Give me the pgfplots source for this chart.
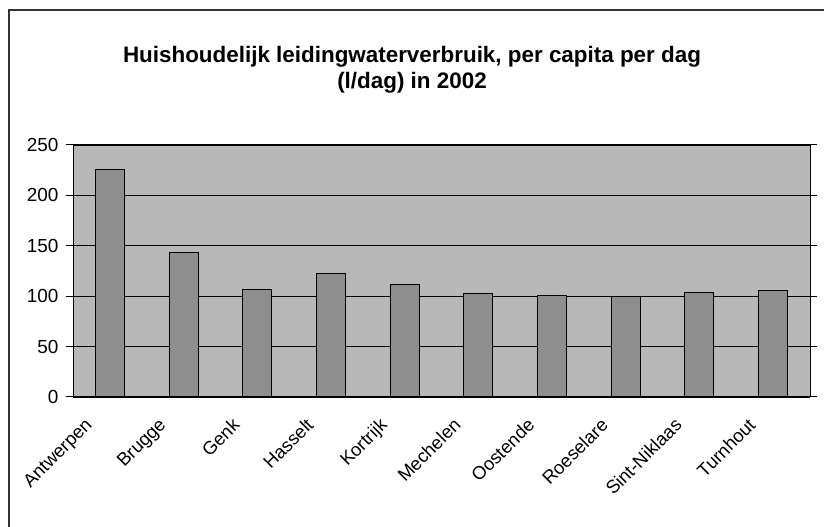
\documentclass[border=0pt]{standalone}
\usepackage{pgfplots}
\pgfplotsset{compat=1.18}
\usepackage{fontspec}
\setmainfont{Liberation Sans}
\definecolor{plotbg}{HTML}{B8B8B8}
\definecolor{barfill}{HTML}{8E8E8E}
\begin{document}
\begin{tikzpicture}[x=1bp,y=1bp]
\path[use as bounding box, fill=white] (0,0) rectangle (824,527);
\draw[line width=1.2bp, black!80] (9,-5) -- (9,517) -- (830,517);
\node[font=\fontsize{22.5}{26}\selectfont\bfseries] at (412,470) {Huishoudelijk leidingwaterverbruik, per capita per dag};
\node[font=\fontsize{22.5}{26}\selectfont\bfseries] at (412,444) {(l/dag) in 2002};
\begin{axis}[
  at={(73bp,130bp)}, anchor=south west,
  scale only axis, width=737bp, height=252bp,
  xmin=-0.5, xmax=9.5, ymin=0, ymax=250,
  axis background/.style={fill=plotbg},
  axis line style={black, line width=1bp},
  ytick={0,50,...,250},
  ymajorgrids, grid style={black, line width=1.2bp},
  tick align=outside, major tick length=7bp,
  tick style={black, line width=1bp},
  xtick={0,...,9},
  xticklabels={Antwerpen,Brugge,Genk,Hasselt,Kortrijk,Mechelen,Oostende,Roeselare,Sint-Niklaas,Turnhout},
  x tick style={draw=none},
  extra x ticks={-0.5,0.5,...,9.5},
  extra x tick labels={},
  extra x tick style={grid=none, major tick length=5bp, tick style={black, line width=1bp, draw=black}},
  x tick label style={xshift=-26bp, yshift=-8bp, rotate=45, anchor=north east, font=\fontsize{18.5}{20}\selectfont},
  y tick label style={xshift=-4bp, font=\fontsize{19}{21}\selectfont},
  /pgf/number format/assume math mode=true,
  ybar, bar width=29bp,
]
\addplot[fill=barfill, draw=black, line width=1bp] coordinates {
(0,226) (1,143) (2,107) (3,123) (4,112) (5,103) (6,101) (7,100) (8,104) (9,106)};
\end{axis}
\end{tikzpicture}
\end{document}
